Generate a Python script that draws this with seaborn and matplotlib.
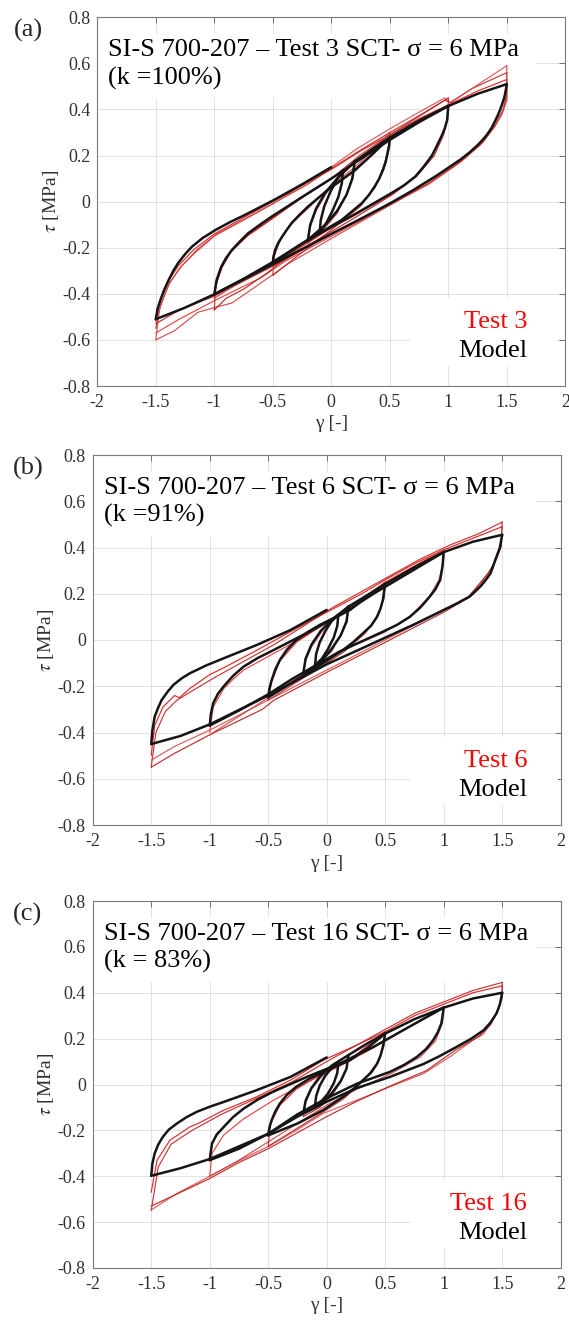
import matplotlib
matplotlib.use("Agg")
import matplotlib.pyplot as plt
import pandas as pd
import seaborn as sns
from matplotlib.lines import Line2D
from matplotlib.patches import Rectangle

# ---------------- data (gamma [-], tau [MPa]) ----------------
# Panel (a) : Test 3 (k = 100%)
a_m_env = [(0.20, 0.174), (0.35, 0.228), (0.50, 0.279), (0.75, 0.352), (1.00, 0.415), (1.25, 0.468), (1.50, 0.510)]
a_m_up15 = [(-1.50, -0.510), (-1.485, -0.465), (-1.46, -0.426), (-1.43, -0.385), (-1.39, -0.340), (-1.35, -0.300),
            (-1.31, -0.267), (-1.25, -0.228), (-1.19, -0.195), (-1.10, -0.158), (-0.99, -0.123), (-0.87, -0.090),
            (-0.74, -0.058), (-0.48, 0.010), (-0.24, 0.078), (0.00, 0.150)]
a_m_dn15 = [(1.50, 0.510), (1.49, 0.480), (1.48, 0.455), (1.46, 0.423), (1.44, 0.395), (1.42, 0.371), (1.40, 0.350),
            (1.37, 0.320), (1.33, 0.290), (1.29, 0.266), (1.25, 0.245), (1.18, 0.213), (1.11, 0.185), (1.00, 0.147),
            (0.90, 0.113), (0.70, 0.050), (0.50, -0.008), (0.25, -0.075), (0.00, -0.140), (-0.50, -0.272),
            (-1.00, -0.402), (-1.25, -0.460), (-1.50, -0.510)]
a_m_up10 = [(-1.00, -0.402), (-0.99, -0.370), (-0.98, -0.340), (-0.96, -0.310), (-0.94, -0.282), (-0.90, -0.245),
            (-0.85, -0.210), (-0.78, -0.172), (-0.71, -0.137), (-0.61, -0.100), (-0.51, -0.065), (-0.25, 0.020),
            (0.00, 0.100), (0.25, 0.185), (0.50, 0.268), (0.75, 0.345), (1.00, 0.415)]
a_m_dn10 = [(1.00, 0.415), (0.995, 0.385), (0.99, 0.354), (0.97, 0.318), (0.94, 0.282), (0.90, 0.240), (0.86, 0.200),
            (0.79, 0.152), (0.72, 0.110), (0.62, 0.070), (0.51, 0.036), (0.20, -0.055), (-0.20, -0.165),
            (-0.50, -0.262), (-0.75, -0.335), (-1.00, -0.402)]
a_m_up05 = [(-0.50, -0.270), (-0.495, -0.240), (-0.48, -0.210), (-0.455, -0.180), (-0.42, -0.152), (-0.38, -0.122),
            (-0.34, -0.094), (-0.27, -0.056), (-0.20, -0.022), (-0.03, 0.051), (0.20, 0.135), (0.35, 0.205),
            (0.50, 0.279)]
a_m_dn05 = [(0.50, 0.279), (0.495, 0.245), (0.48, 0.210), (0.465, 0.173), (0.44, 0.137), (0.41, 0.100), (0.37, 0.065),
            (0.32, 0.028), (0.26, -0.007), (0.09, -0.079), (-0.11, -0.140), (-0.30, -0.200), (-0.50, -0.270)]
a_m_up02 = [(-0.20, -0.166), (-0.18, -0.100), (-0.13, -0.030), (-0.05, 0.040), (0.05, 0.100), (0.20, 0.174)]
a_m_dn02 = [(0.20, 0.174), (0.18, 0.100), (0.13, 0.030), (0.05, -0.040), (-0.05, -0.100), (-0.20, -0.166)]
a_m_up01 = [(-0.10, -0.135), (-0.09, -0.080), (-0.06, -0.020), (-0.01, 0.040), (0.04, 0.090), (0.10, 0.135)]
a_m_dn01 = [(0.10, 0.135), (0.09, 0.080), (0.06, 0.020), (0.01, -0.040), (-0.04, -0.090), (-0.10, -0.135)]

a_r_up15_1 = [(-1.50, -0.52), (-1.47, -0.44), (-1.40, -0.35), (-1.31, -0.28), (-1.18, -0.21), (-1.00, -0.14),
              (-0.75, -0.07), (-0.50, 0.00), (-0.25, 0.07), (0.00, 0.14), (0.25, 0.22), (0.50, 0.29), (0.75, 0.36),
              (1.00, 0.42), (1.25, 0.48), (1.50, 0.53)]
a_r_up15_2 = [(-1.50, -0.55), (-1.46, -0.45), (-1.38, -0.35), (-1.28, -0.28), (-1.15, -0.21), (-0.98, -0.14),
              (-0.72, -0.07), (-0.47, 0.00), (-0.22, 0.07), (0.02, 0.15), (0.27, 0.23), (0.50, 0.30), (0.74, 0.37),
              (0.97, 0.44), (1.02, 0.43), (1.20, 0.49), (1.50, 0.56)]
a_r_up15_3 = [(-1.50, -0.60), (-1.47, -0.47), (-1.40, -0.37), (-1.30, -0.29), (-1.16, -0.22), (-1.00, -0.15),
              (-0.75, -0.08), (-0.50, -0.01), (-0.25, 0.07), (0.00, 0.15), (0.22, 0.23), (0.48, 0.31), (0.72, 0.38),
              (0.97, 0.45), (1.01, 0.43), (1.11, 0.46), (1.29, 0.52), (1.50, 0.59)]
a_r_dn15_1 = [(1.50, 0.53), (1.50, 0.47), (1.47, 0.40), (1.41, 0.34), (1.30, 0.26), (1.12, 0.18), (0.85, 0.085),
              (0.50, -0.01), (0.00, -0.14), (-0.50, -0.28), (-1.00, -0.41), (-1.30, -0.47), (-1.50, -0.53)]
a_r_dn15_2 = [(1.50, 0.56), (1.50, 0.45), (1.46, 0.39), (1.40, 0.33), (1.28, 0.25), (1.10, 0.17), (0.83, 0.075),
              (0.48, -0.02), (0.00, -0.15), (-0.40, -0.26), (-0.60, -0.33), (-1.00, -0.43), (-1.30, -0.51), (-1.50, -0.57)]
a_r_dn15_3 = [(1.50, 0.59), (1.50, 0.44), (1.46, 0.38), (1.39, 0.32), (1.27, 0.245), (1.08, 0.165), (0.80, 0.07),
              (0.45, -0.03), (0.00, -0.16), (-0.37, -0.27), (-0.65, -0.37), (-0.85, -0.44), (-1.00, -0.46),
              (-1.14, -0.48), (-1.34, -0.56), (-1.50, -0.60)]
a_r_up10_1 = [(-1.00, -0.42), (-0.98, -0.35), (-0.93, -0.28), (-0.85, -0.21), (-0.70, -0.14), (-0.50, -0.07),
              (-0.25, 0.02), (0.00, 0.10), (0.25, 0.19), (0.50, 0.28), (0.75, 0.35), (1.00, 0.42)]
a_r_up10_2 = [(-1.00, -0.47), (-0.99, -0.37), (-0.94, -0.29), (-0.86, -0.22), (-0.72, -0.15), (-0.52, -0.08),
              (-0.27, 0.01), (0.00, 0.10), (0.24, 0.20), (0.50, 0.29), (0.75, 0.37), (1.00, 0.45)]
a_r_dn10_1 = [(1.00, 0.42), (0.99, 0.35), (0.94, 0.28), (0.86, 0.20), (0.72, 0.11), (0.51, 0.03), (0.20, -0.06),
              (-0.20, -0.17), (-0.50, -0.27), (-0.75, -0.34), (-1.00, -0.42)]
a_r_dn10_2 = [(1.00, 0.45), (1.00, 0.38), (0.96, 0.29), (0.88, 0.20), (0.73, 0.11), (0.52, 0.03), (0.20, -0.07),
              (-0.20, -0.19), (-0.45, -0.27), (-0.55, -0.31), (-0.75, -0.38), (-0.90, -0.42), (-1.00, -0.47)]
a_r_up05_1 = [(-0.50, -0.28), (-0.48, -0.21), (-0.42, -0.15), (-0.34, -0.09), (-0.20, -0.02), (-0.03, 0.05),
              (0.20, 0.14), (0.35, 0.21), (0.50, 0.28)]
a_r_up05_2 = [(-0.50, -0.32), (-0.49, -0.24), (-0.43, -0.16), (-0.35, -0.10), (-0.20, -0.03), (-0.02, 0.06),
              (0.20, 0.15), (0.35, 0.22), (0.50, 0.30)]
a_r_dn05_1 = [(0.50, 0.28), (0.48, 0.21), (0.44, 0.14), (0.37, 0.06), (0.26, -0.01), (0.09, -0.08), (-0.11, -0.15),
              (-0.30, -0.21), (-0.50, -0.28)]
a_r_dn05_2 = [(0.50, 0.30), (0.49, 0.22), (0.45, 0.14), (0.37, 0.06), (0.25, -0.02), (0.08, -0.09), (-0.12, -0.17),
              (-0.30, -0.24), (-0.40, -0.28), (-0.50, -0.32)]
a_r_up02 = [(-0.20, -0.18), (-0.18, -0.11), (-0.13, -0.04), (-0.05, 0.03), (0.05, 0.10), (0.20, 0.18)]
a_r_dn02 = [(0.20, 0.18), (0.18, 0.11), (0.13, 0.03), (0.05, -0.05), (-0.05, -0.11), (-0.20, -0.18)]

# Panel (b) : Test 6 (k = 91%)
b_m_env = [(0.185, 0.144), (0.35, 0.195), (0.50, 0.242), (0.75, 0.315), (1.00, 0.380), (1.25, 0.425), (1.50, 0.455)]
b_m_up15 = [(-1.50, -0.450), (-1.49, -0.390), (-1.47, -0.331), (-1.44, -0.292), (-1.41, -0.259), (-1.36, -0.224),
            (-1.31, -0.194), (-1.24, -0.166), (-1.17, -0.144), (-1.03, -0.110), (-0.88, -0.079), (-0.60, -0.022),
            (-0.31, 0.043), (0.00, 0.130)]
b_m_dn15 = [(1.50, 0.455), (1.49, 0.428), (1.48, 0.400), (1.46, 0.372), (1.44, 0.345), (1.42, 0.315), (1.40, 0.288),
            (1.36, 0.260), (1.32, 0.235), (1.27, 0.210), (1.22, 0.187), (1.11, 0.157), (1.00, 0.130), (0.75, 0.068),
            (0.50, 0.010), (0.25, -0.048), (0.00, -0.105), (-0.50, -0.240), (-1.00, -0.365), (-1.25, -0.415),
            (-1.50, -0.450)]
b_m_up10 = [(-1.00, -0.370), (-0.99, -0.320), (-0.97, -0.273), (-0.93, -0.233), (-0.88, -0.200), (-0.80, -0.155),
            (-0.71, -0.115), (-0.59, -0.078), (-0.46, -0.045), (-0.17, 0.030), (0.14, 0.115), (0.40, 0.200),
            (0.70, 0.290), (1.00, 0.380)]
b_m_dn10 = [(1.00, 0.380), (0.995, 0.350), (0.99, 0.320), (0.97, 0.260), (0.93, 0.220), (0.88, 0.187), (0.80, 0.140),
            (0.71, 0.100), (0.60, 0.065), (0.48, 0.036), (0.11, -0.050), (-0.30, -0.170), (-0.50, -0.235),
            (-0.75, -0.305), (-1.00, -0.370)]
b_m_up05 = [(-0.50, -0.248), (-0.49, -0.210), (-0.47, -0.173), (-0.44, -0.128), (-0.40, -0.086), (-0.34, -0.042),
            (-0.26, 0.000), (-0.16, 0.035), (-0.06, 0.065), (0.20, 0.130), (0.35, 0.190), (0.50, 0.242)]
b_m_dn05 = [(0.50, 0.242), (0.49, 0.208), (0.48, 0.173), (0.46, 0.136), (0.43, 0.100), (0.38, 0.062), (0.31, 0.029),
            (0.23, -0.008), (0.14, -0.043), (-0.03, -0.100), (-0.25, -0.170), (-0.50, -0.248)]
b_m_up02 = [(-0.20, -0.144), (-0.18, -0.080), (-0.13, -0.020), (-0.05, 0.040), (0.05, 0.090), (0.185, 0.144)]
b_m_dn02 = [(0.185, 0.144), (0.17, 0.080), (0.12, 0.020), (0.04, -0.040), (-0.06, -0.100), (-0.20, -0.144)]
b_m_up01 = [(-0.10, -0.110), (-0.09, -0.060), (-0.06, -0.010), (-0.01, 0.040), (0.04, 0.080), (0.10, 0.110)]
b_m_dn01 = [(0.10, 0.110), (0.09, 0.060), (0.06, 0.010), (0.01, -0.040), (-0.04, -0.080), (-0.10, -0.110)]

b_r_up15_1 = [(-1.50, -0.50), (-1.47, -0.37), (-1.40, -0.29), (-1.30, -0.24), (-1.26, -0.25), (-1.17, -0.21),
              (-1.00, -0.15), (-0.88, -0.12), (-0.60, -0.045), (-0.31, 0.036), (0.00, 0.12), (0.30, 0.20),
              (0.50, 0.26), (0.75, 0.33), (1.00, 0.39), (1.25, 0.44), (1.50, 0.49)]
b_r_up15_2 = [(-1.50, -0.55), (-1.46, -0.40), (-1.38, -0.31), (-1.28, -0.26), (-1.15, -0.22), (-0.95, -0.16),
              (-0.70, -0.09), (-0.45, -0.02), (-0.20, 0.06), (0.05, 0.14), (0.30, 0.21), (0.55, 0.28), (0.80, 0.35),
              (1.05, 0.41), (1.30, 0.46), (1.50, 0.51)]
b_r_dn15_1 = [(1.50, 0.49), (1.49, 0.41), (1.45, 0.35), (1.40, 0.30), (1.32, 0.245), (1.22, 0.19), (1.00, 0.13),
              (0.50, 0.00), (0.00, -0.13), (-0.50, -0.26), (-1.00, -0.39), (-1.30, -0.46), (-1.50, -0.52)]
b_r_dn15_2 = [(1.50, 0.51), (1.49, 0.40), (1.44, 0.34), (1.38, 0.29), (1.30, 0.24), (1.20, 0.18), (1.00, 0.12),
              (0.50, -0.01), (0.00, -0.14), (-0.45, -0.26), (-0.55, -0.30), (-1.00, -0.41), (-1.30, -0.49), (-1.50, -0.55)]
b_r_up10_1 = [(-1.00, -0.40), (-0.97, -0.29), (-0.88, -0.21), (-0.80, -0.17), (-0.71, -0.13), (-0.46, -0.06),
              (-0.17, 0.02), (0.14, 0.12), (0.50, 0.25), (0.75, 0.32), (1.00, 0.39)]
b_r_dn10_1 = [(1.00, 0.39), (0.99, 0.32), (0.96, 0.26), (0.88, 0.19), (0.71, 0.10), (0.48, 0.03), (0.11, -0.05),
              (-0.30, -0.18), (-0.50, -0.25), (-0.75, -0.33), (-1.00, -0.41)]
b_r_up05_1 = [(-0.50, -0.26), (-0.47, -0.18), (-0.40, -0.09), (-0.26, -0.01), (-0.06, 0.06), (0.20, 0.13),
              (0.35, 0.19), (0.50, 0.25)]
b_r_dn05_1 = [(0.50, 0.25), (0.49, 0.18), (0.44, 0.11), (0.33, 0.03), (0.15, -0.05), (-0.03, -0.11),
              (-0.25, -0.18), (-0.50, -0.26)]
b_r_up02 = [(-0.20, -0.15), (-0.18, -0.09), (-0.13, -0.03), (-0.05, 0.03), (0.05, 0.09), (0.19, 0.15)]
b_r_dn02 = [(0.19, 0.15), (0.17, 0.09), (0.12, 0.02), (0.04, -0.05), (-0.06, -0.10), (-0.20, -0.15)]

# Panel (c) : Test 16 (k = 83%)
c_m_env = [(0.185, 0.128), (0.35, 0.180), (0.50, 0.222), (0.75, 0.285), (1.00, 0.335), (1.25, 0.375), (1.50, 0.400)]
c_m_up15 = [(-1.50, -0.398), (-1.49, -0.345), (-1.47, -0.300), (-1.44, -0.262), (-1.40, -0.228), (-1.35, -0.197),
            (-1.28, -0.170), (-1.20, -0.143), (-1.11, -0.119), (-1.00, -0.097), (-0.88, -0.076), (-0.60, -0.025),
            (-0.31, 0.033), (0.00, 0.118)]
c_m_dn15 = [(1.50, 0.400), (1.49, 0.373), (1.48, 0.350), (1.465, 0.328), (1.45, 0.309), (1.40, 0.270), (1.34, 0.236),
            (1.23, 0.198), (1.11, 0.164), (0.97, 0.125), (0.83, 0.090), (0.54, 0.033), (0.26, -0.015), (0.00, -0.075),
            (-0.25, -0.140), (-0.50, -0.215), (-0.75, -0.270), (-1.00, -0.325), (-1.25, -0.365), (-1.50, -0.398)]
c_m_up10 = [(-1.00, -0.330), (-0.99, -0.290), (-0.98, -0.257), (-0.94, -0.218), (-0.88, -0.185), (-0.80, -0.142),
            (-0.71, -0.105), (-0.59, -0.066), (-0.46, -0.032), (-0.17, 0.033), (0.11, 0.091), (0.40, 0.164),
            (0.70, 0.250), (1.00, 0.335)]
c_m_dn10 = [(1.00, 0.335), (0.99, 0.298), (0.98, 0.266), (0.95, 0.228), (0.91, 0.193), (0.85, 0.155), (0.77, 0.120),
            (0.66, 0.085), (0.54, 0.055), (0.26, 0.004), (0.00, -0.060), (-0.25, -0.130), (-0.50, -0.215),
            (-0.75, -0.280), (-1.00, -0.330)]
c_m_up05 = [(-0.50, -0.222), (-0.49, -0.188), (-0.47, -0.155), (-0.44, -0.118), (-0.40, -0.083), (-0.34, -0.045),
            (-0.26, -0.010), (-0.15, 0.025), (-0.03, 0.055), (0.20, 0.106), (0.35, 0.160), (0.50, 0.222)]
c_m_dn05 = [(0.50, 0.222), (0.49, 0.193), (0.48, 0.164), (0.46, 0.126), (0.43, 0.090), (0.38, 0.052), (0.31, 0.019),
            (0.23, -0.018), (0.14, -0.054), (-0.03, -0.112), (-0.25, -0.170), (-0.50, -0.222)]
c_m_up02 = [(-0.20, -0.126), (-0.18, -0.070), (-0.13, -0.015), (-0.05, 0.040), (0.05, 0.085), (0.185, 0.128)]
c_m_dn02 = [(0.185, 0.128), (0.17, 0.070), (0.12, 0.015), (0.04, -0.040), (-0.06, -0.090), (-0.20, -0.126)]
c_m_up01 = [(-0.10, -0.095), (-0.09, -0.050), (-0.06, -0.005), (-0.01, 0.040), (0.04, 0.070), (0.10, 0.095)]
c_m_dn01 = [(0.10, 0.095), (0.09, 0.050), (0.06, 0.005), (0.01, -0.040), (-0.04, -0.070), (-0.10, -0.095)]

c_r_up15_1 = [(-1.50, -0.47), (-1.45, -0.33), (-1.34, -0.243), (-1.17, -0.185), (-1.10, -0.17), (-0.88, -0.112),
              (-0.60, -0.054), (-0.31, 0.019), (-0.03, 0.106), (0.25, 0.17), (0.50, 0.23), (0.75, 0.30),
              (1.00, 0.35), (1.25, 0.40), (1.50, 0.43)]
c_r_up15_2 = [(-1.50, -0.55), (-1.44, -0.36), (-1.33, -0.26), (-1.15, -0.20), (-0.90, -0.13), (-0.60, -0.06),
              (-0.30, 0.01), (0.00, 0.10), (0.25, 0.17), (0.50, 0.24), (0.75, 0.31), (1.00, 0.36), (1.25, 0.41),
              (1.50, 0.445)]
c_r_dn15_1 = [(1.50, 0.43), (1.50, 0.38), (1.47, 0.33), (1.42, 0.28), (1.34, 0.22), (1.25, 0.193), (1.05, 0.12),
              (0.83, 0.048), (0.54, -0.01), (0.26, -0.068), (-0.03, -0.126), (-0.26, -0.20), (-0.50, -0.27),
              (-0.74, -0.33), (-1.00, -0.40), (-1.28, -0.475), (-1.50, -0.547)]
c_r_dn15_2 = [(1.50, 0.445), (1.50, 0.39), (1.46, 0.32), (1.40, 0.26), (1.30, 0.21), (1.10, 0.15), (0.85, 0.06),
              (0.55, -0.005), (0.25, -0.075), (0.00, -0.14), (-0.25, -0.21), (-0.50, -0.28), (-0.75, -0.34),
              (-1.00, -0.41), (-1.25, -0.47), (-1.50, -0.53)]
c_r_up10_1 = [(-1.00, -0.40), (-0.98, -0.30), (-0.88, -0.22), (-0.71, -0.15), (-0.46, -0.07), (-0.17, 0.01),
              (0.11, 0.08), (0.40, 0.16), (0.70, 0.25), (1.00, 0.34)]
c_r_dn10_1 = [(1.00, 0.34), (0.99, 0.27), (0.93, 0.19), (0.80, 0.12), (0.56, 0.05), (0.26, -0.02), (0.00, -0.09),
              (-0.25, -0.17), (-0.50, -0.25), (-0.75, -0.33), (-1.00, -0.40)]
c_r_up05_1 = [(-0.50, -0.27), (-0.48, -0.17), (-0.40, -0.09), (-0.26, -0.02), (-0.03, 0.05), (0.20, 0.11),
              (0.35, 0.17), (0.50, 0.23)]
c_r_dn05_1 = [(0.50, 0.23), (0.49, 0.17), (0.44, 0.10), (0.32, 0.02), (0.15, -0.06), (-0.03, -0.12),
              (-0.25, -0.19), (-0.50, -0.27)]
c_r_up02 = [(-0.20, -0.14), (-0.18, -0.08), (-0.13, -0.02), (-0.05, 0.03), (0.05, 0.08), (0.19, 0.13)]
c_r_dn02 = [(0.19, 0.13), (0.17, 0.07), (0.12, 0.01), (0.04, -0.05), (-0.06, -0.10), (-0.20, -0.14)]

# texts and ticks
panel_tags = ["(a)", "(b)", "(c)"]
test_names = ["Test 3", "Test 6", "Test 16"]
titles = ["SI-S 700-207 \u2013 Test 3 SCT- \u03c3 = 6 MPa\n(k =100%)",
          "SI-S 700-207 \u2013 Test 6 SCT- \u03c3 = 6 MPa\n(k =91%)",
          "SI-S 700-207 \u2013 Test 16 SCT- \u03c3 = 6 MPa\n(k = 83%)"]
x_ticks = [-2, -1.5, -1, -0.5, 0, 0.5, 1, 1.5, 2]
x_ticklabels = ["-2", "-1.5", "-1", "-0.5", "0", "0.5", "1", "1.5", "2"]
y_ticks = [-0.8, -0.6, -0.4, -0.2, 0, 0.2, 0.4, 0.6, 0.8]
y_ticklabels = ["-0.8", "-0.6", "-0.4", "-0.2", "0", "0.2", "0.4", "0.6", "0.8"]

model_sets = [
    [a_m_env, a_m_up15, a_m_dn15, a_m_up10, a_m_dn10, a_m_up05, a_m_dn05, a_m_up02, a_m_dn02, a_m_up01, a_m_dn01],
    [b_m_env, b_m_up15, b_m_dn15, b_m_up10, b_m_dn10, b_m_up05, b_m_dn05, b_m_up02, b_m_dn02, b_m_up01, b_m_dn01],
    [c_m_env, c_m_up15, c_m_dn15, c_m_up10, c_m_dn10, c_m_up05, c_m_dn05, c_m_up02, c_m_dn02, c_m_up01, c_m_dn01],
]
test_sets = [
    [a_r_up15_1, a_r_up15_2, a_r_up15_3, a_r_dn15_1, a_r_dn15_2, a_r_dn15_3, a_r_up10_1, a_r_up10_2, a_r_dn10_1,
     a_r_dn10_2, a_r_up05_1, a_r_up05_2, a_r_dn05_1, a_r_dn05_2, a_r_up02, a_r_dn02],
    [b_r_up15_1, b_r_up15_2, b_r_dn15_1, b_r_dn15_2, b_r_up10_1, b_r_dn10_1, b_r_up05_1, b_r_dn05_1, b_r_up02, b_r_dn02],
    [c_r_up15_1, c_r_up15_2, c_r_dn15_1, c_r_dn15_2, c_r_up10_1, c_r_dn10_1, c_r_up05_1, c_r_dn05_1, c_r_up02, c_r_dn02],
]

# ---------------- style ----------------
sns.set_theme(style="white")
plt.rcParams["font.family"] = ["Liberation Serif", "DejaVu Serif"]
plt.rcParams["axes.unicode_minus"] = False
plt.rcParams["mathtext.fontset"] = "stix"

W, H = 569, 1322
fig = plt.figure(figsize=(W / 100, H / 100), dpi=100)
# axes boxes in pixels: left, right, top, bottom
boxes = [(97.3, 565.3, 17.3, 386.0), (92.7, 560.7, 455.0, 825.0), (92.7, 560.7, 901.0, 1268.0)]
red_cols = ["#e01010", "#c42020", "#d84a4a", "#b81818", "#e83030", "#cc3c3c"]


def to_frame(branches, prefix):
    rows = []
    for i, br in enumerate(branches):
        for g, t in br:
            rows.append({"g": g, "t": t, "trace": f"{prefix}{i}"})
    return pd.DataFrame(rows)


for k in range(3):
    l, r, t, b = boxes[k]
    aw, ah = r - l, b - t
    ax = fig.add_axes([l / W, 1 - b / H, aw / W, ah / H])

    def px(x0, y0):
        # pixel (from figure top-left) -> axes fraction
        return (x0 - l) / aw, (b - y0) / ah

    dft = to_frame(test_sets[k], "r")
    pal = {name: red_cols[i % len(red_cols)] for i, name in enumerate(dft["trace"].unique())}
    sns.lineplot(data=dft, x="g", y="t", hue="trace", units="trace", estimator=None, sort=False,
                 palette=pal, linewidth=0.85, alpha=0.9, legend=False, ax=ax, zorder=3)
    dfm = to_frame(model_sets[k], "m")
    sns.lineplot(data=dfm, x="g", y="t", units="trace", estimator=None, sort=False,
                 color="#151515", linewidth=1.8, legend=False, ax=ax, zorder=4)

    ax.set_xlim(-2, 2)
    ax.set_ylim(-0.8, 0.8)
    ax.set_xticks(x_ticks)
    ax.set_xticklabels(x_ticklabels)
    ax.set_yticks(y_ticks)
    ax.set_yticklabels(y_ticklabels)
    ax.grid(True, color="#e2e2e2", linewidth=0.7, zorder=0)
    ax.set_axisbelow(True)
    ax.tick_params(direction="in", length=4, width=0.7, top=True, right=True, color="#707070",
                   labelcolor="#303030", labelsize=13)
    ax.tick_params(axis="x", pad=6)
    ax.tick_params(axis="y", pad=5)
    for s in ax.spines.values():
        s.set_color("#7a7a7a")
        s.set_linewidth(0.8)
    ax.set_xlabel("\u03b3 [-]", fontsize=14, color="#303030", labelpad=3)
    ax.set_ylabel("$\\tau$ [MPa]", fontsize=14, color="#303030", labelpad=1)

    # white box behind the title (drawn under the curves, above the grid)
    x0f, y1f = px(l, t + 17)
    x1f, y0f = px(536, t + 81)
    ax.add_patch(Rectangle((x0f, y0f), x1f - x0f, y1f - y0f, transform=ax.transAxes,
                           facecolor="white", edgecolor="none", zorder=1.5))
    tx, ty = px(l + 11, t + 22)
    ax.text(tx, ty, titles[k], transform=ax.transAxes, fontsize=19, va="top", ha="left",
            linespacing=1.3, color="black", zorder=5)

    # legend box and entries
    lx0, ly1 = px(411, b - 88)
    lx1, ly0 = px(558, b - 20)
    ax.add_patch(Rectangle((lx0, ly0), lx1 - lx0, ly1 - ly0, transform=ax.transAxes,
                           facecolor="white", edgecolor="none", zorder=1.5))
    handles = [Line2D([], [], color="none"), Line2D([], [], color="none")]
    ax_x, ax_y = px(527, b - 24)
    leg = ax.legend(handles, [test_names[k], "Model"], loc="lower right", bbox_to_anchor=(ax_x, ax_y),
                    fontsize=19, frameon=False, handlelength=0, handletextpad=0, borderpad=0,
                    borderaxespad=0, labelspacing=0.22, markerfirst=False,
                    labelcolor=["#ff0000", "black"])
    leg.set_zorder(6)

    fig.text(28 / W, 1 - (t + 13) / H, panel_tags[k], fontsize=19, ha="center", va="center")

fig.savefig("out.png", dpi=100)
